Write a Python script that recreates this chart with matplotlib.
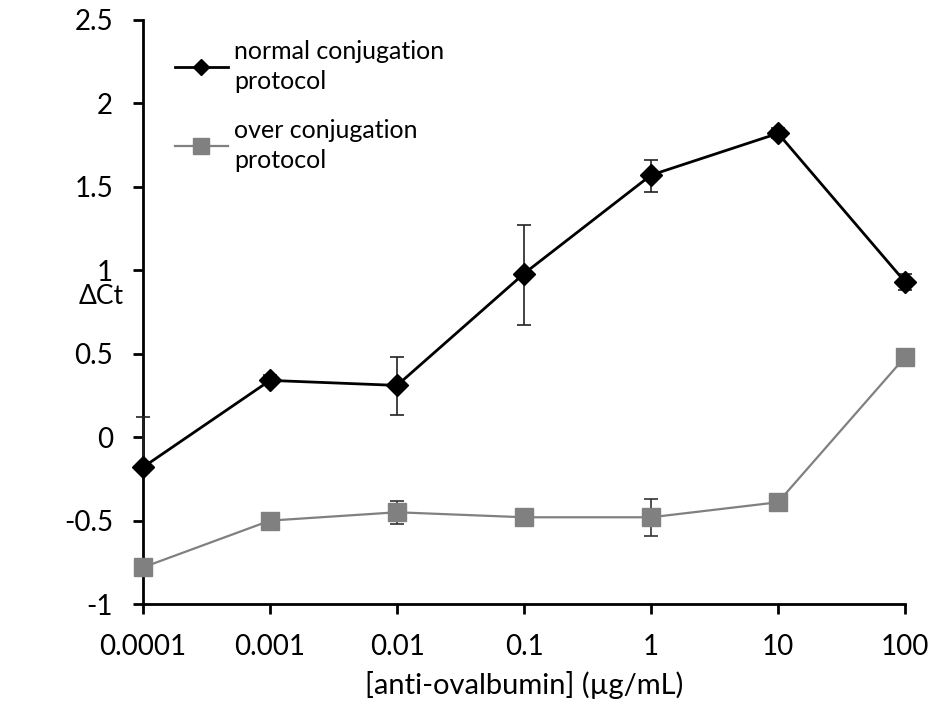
import numpy as np
import matplotlib
matplotlib.use('Agg')
import matplotlib.pyplot as plt
from matplotlib.lines import Line2D

# data
concentrations = ['0.0001', '0.001', '0.01', '0.1', '1', '10', '100']
normal_ct = [-0.18, 0.34, 0.31, 0.98, 1.57, 1.82, 0.93]
normal_err_lo = [0.0, 0.03, 0.18, 0.31, 0.10, 0.03, 0.05]
normal_err_hi = [0.30, 0.03, 0.17, 0.29, 0.09, 0.03, 0.05]
over_ct = [-0.78, -0.50, -0.45, -0.48, -0.48, -0.39, 0.48]
over_err = [0.0, 0.0, 0.07, 0.0, 0.11, 0.0, 0.05]

plt.rcParams['font.family'] = ['Lato', 'DejaVu Sans']

fig = plt.figure(figsize=(9.35, 7.09), dpi=100)
ax = fig.add_axes([0.153, 0.148, 0.815, 0.824])

x = np.arange(len(concentrations))

c1 = ax.errorbar(x, over_ct, yerr=over_err, color='#808080', marker='s', markersize=13,
                 linewidth=1.6, ecolor='#333333', elinewidth=1.2, capsize=5, capthick=1.2,
                 zorder=3)
c2 = ax.errorbar(x, normal_ct, yerr=[normal_err_lo, normal_err_hi], color='black', marker='D',
                 markersize=11, linewidth=2, ecolor='#222222', elinewidth=1.2, capsize=5,
                 capthick=1.2, zorder=4)
for c in (c1, c2):
    for a in c.get_children():
        a.set_clip_on(False)

ax.set_xlim(0, len(concentrations) - 1)
ax.set_ylim(-1, 2.5)
ax.set_xticks(x)
ax.set_xticklabels(concentrations)
ax.set_yticks([-1, -0.5, 0, 0.5, 1, 1.5, 2, 2.5])
ax.set_yticklabels(['-1', '-0.5', '0', '0.5', '1', '1.5', '2', '2.5'])

for s in ['top', 'right']:
    ax.spines[s].set_visible(False)
for s in ['left', 'bottom']:
    ax.spines[s].set_linewidth(2)
ax.tick_params(axis='both', labelsize=20, width=2, length=7.5, direction='out', colors='black')
ax.tick_params(axis='x', pad=14)
ax.tick_params(axis='y', pad=14)

ax.set_xlabel('[anti-ovalbumin] (µg/mL)', fontsize=21, labelpad=8)
ax.set_ylabel('ΔCt', fontsize=19, rotation=0, ha='center', va='center')
ax.yaxis.set_label_coords(-0.055, 0.526)

handles = [
    Line2D([], [], color='black', linewidth=2, marker='D', markersize=8),
    Line2D([], [], color='#808080', linewidth=1.6, marker='s', markersize=11),
]
labels = ['normal conjugation\nprotocol', 'over conjugation\nprotocol']
leg = ax.legend(handles, labels, loc='upper left', bbox_to_anchor=(0.042, 0.965),
                frameon=False, fontsize=18, handlelength=2.1, handletextpad=0.25,
                labelspacing=1.05, borderpad=0, borderaxespad=0)
for t in leg.get_texts():
    t.set_linespacing(1.35)

fig.savefig('out.png', dpi=100)
